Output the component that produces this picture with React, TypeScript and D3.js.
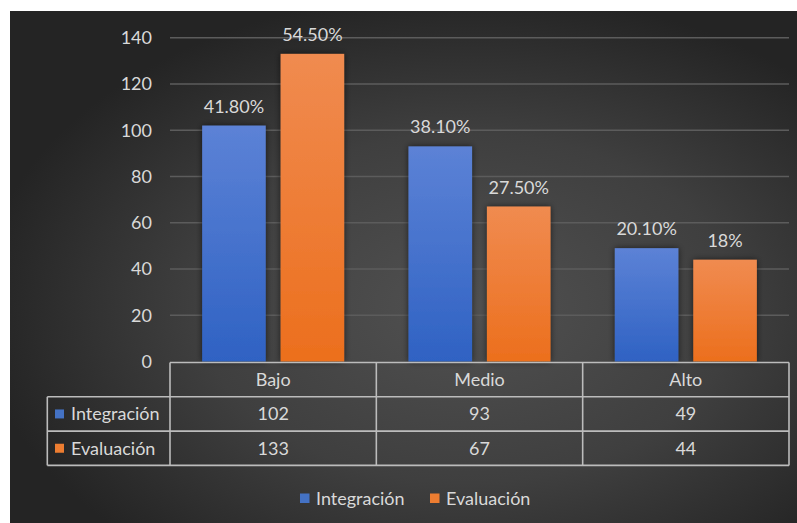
import React from "react";
import * as d3 from "d3";

const categories = ["Bajo", "Medio", "Alto"];
const seriesNames = ["Integración", "Evaluación"];
const integracion = [102, 93, 49];
const evaluacion = [133, 67, 44];
const integracionLabels = ["41.80%", "38.10%", "20.10%"];
const evaluacionLabels = ["54.50%", "27.50%", "18%"];
const yTicks = [0, 20, 40, 60, 80, 100, 120, 140];

const W = 797;
const H = 523;
const FONT = "Lato, 'Open Sans', sans-serif";
const TXT = "#d9d9d9";
const LINE = "#bcbcbc";

export default function App() {
  const plotL = 170;
  const plotR = 789;
  const y = d3.scaleLinear().domain([0, 140]).range([361.5, 37.7]);
  const x0 = d3.scaleBand<string>().domain(categories).range([plotL, plotR]).paddingInner(0).paddingOuter(0);
  const x1 = d3.scaleBand<string>().domain(seriesNames).range([0, x0.bandwidth()]).paddingInner(0.19).paddingOuter(0.41);

  const series = [
    { name: seriesNames[0], values: integracion, labels: integracionLabels, grad: "gBlue", color: "#4472c4" },
    { name: seriesNames[1], values: evaluacion, labels: evaluacionLabels, grad: "gOrange", color: "#ed7d31" },
  ];

  const tTop = 362.5;
  const rowH = 34.3;
  const tLeft = 47.3;
  const rows = [tTop, tTop + rowH, tTop + 2 * rowH, tTop + 3 * rowH];

  return (
    <svg width={W} height={H} style={{ position: "absolute", left: 0, top: 0, background: "#fff" }} fontFamily={FONT}>
      <defs>
        <radialGradient id="bg" cx="58%" cy="58%" r="62%">
          <stop offset="0" stopColor="#515151" />
          <stop offset="0.55" stopColor="#3f3f3f" />
          <stop offset="1" stopColor="#242424" />
        </radialGradient>
        <linearGradient id="gBlue" x1="0" y1="0" x2="0" y2="1">
          <stop offset="0" stopColor="#5c82d6" />
          <stop offset="1" stopColor="#2f62c3" />
        </linearGradient>
        <linearGradient id="gOrange" x1="0" y1="0" x2="0" y2="1">
          <stop offset="0" stopColor="#f08b50" />
          <stop offset="1" stopColor="#ec6f1d" />
        </linearGradient>
        <filter id="shadow" x="-30%" y="-30%" width="160%" height="160%">
          <feDropShadow dx="0" dy="0" stdDeviation="3" floodColor="#000" floodOpacity="0.6" />
        </filter>
      </defs>
      <rect x={10} y={11} width={W - 10} height={H - 11} fill="url(#bg)" />

      {yTicks.filter((t) => t > 0).map((t) => (
        <line key={t} x1={plotL} x2={plotR} y1={y(t)} y2={y(t)} stroke="#5c5c5c" strokeWidth={1.5} />
      ))}
      {yTicks.map((t) => (
        <text key={t} x={152} y={y(t)} dy="0.35em" textAnchor="end" fill={TXT} fontSize={18}>
          {t}
        </text>
      ))}

      {series.map((s) =>
        categories.map((c, i) => {
          const bx = (x0(c) as number) + (x1(s.name) as number);
          const bw = x1.bandwidth();
          const by = y(s.values[i]);
          return (
            <g key={s.name + c}>
              <rect x={bx} y={by} width={bw} height={y(0) - by} fill={`url(#${s.grad})`} filter="url(#shadow)" />
              <text x={bx + bw / 2} y={by - 13} textAnchor="middle" fill={TXT} fontSize={18}>
                {s.labels[i]}
              </text>
            </g>
          );
        })
      )}

      {/* data table */}
      <g stroke={LINE} strokeWidth={1.6} fill="none">
        <line x1={plotL} x2={plotR} y1={rows[0]} y2={rows[0]} />
        {rows.slice(1).map((r, i) => (
          <line key={i} x1={tLeft} x2={plotR} y1={r} y2={r} />
        ))}
        <line x1={tLeft} x2={tLeft} y1={rows[1]} y2={rows[3]} />
        {categories.map((c) => (
          <line key={c} x1={x0(c) as number} x2={x0(c) as number} y1={rows[0]} y2={rows[3]} />
        ))}
        <line x1={plotR} x2={plotR} y1={rows[0]} y2={rows[3]} />
      </g>
      {categories.map((c) => (
        <text key={c} x={(x0(c) as number) + x0.bandwidth() / 2} y={(rows[0] + rows[1]) / 2} dy="0.35em" textAnchor="middle" fill={TXT} fontSize={18}>
          {c}
        </text>
      ))}
      {series.map((s, si) => (
        <g key={s.name}>
          <rect x={55} y={(rows[si + 1] + rows[si + 2]) / 2 - 4.5} width={9} height={9} fill={s.color} />
          <text x={71} y={(rows[si + 1] + rows[si + 2]) / 2} dy="0.35em" fill={TXT} fontSize={18}>
            {s.name}
          </text>
          {categories.map((c, i) => (
            <text key={c} x={(x0(c) as number) + x0.bandwidth() / 2} y={(rows[si + 1] + rows[si + 2]) / 2} dy="0.35em" textAnchor="middle" fill={TXT} fontSize={18}>
              {s.values[i]}
            </text>
          ))}
        </g>
      ))}

      {/* legend */}
      {series.map((s, si) => {
        const lx = si === 0 ? 300 : 430;
        return (
          <g key={s.name}>
            <rect x={lx} y={493.5} width={9.5} height={9.5} fill={s.color} />
            <text x={lx + 16} y={498.5} dy="0.35em" fill={TXT} fontSize={18}>
              {s.name}
            </text>
          </g>
        );
      })}
    </svg>
  );
}
